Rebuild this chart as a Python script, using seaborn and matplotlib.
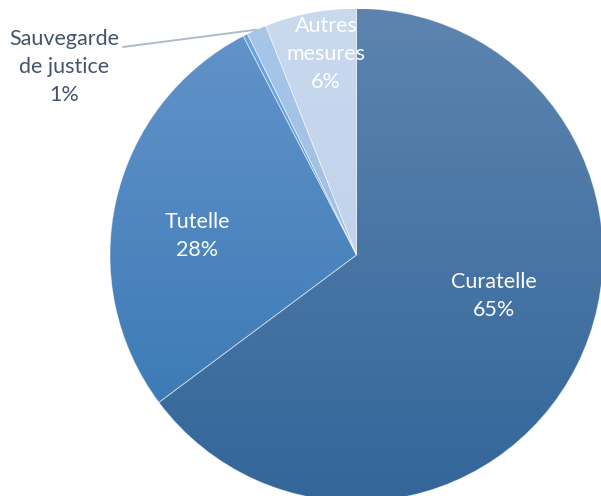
import numpy as np
import matplotlib
matplotlib.use("Agg")
import matplotlib.pyplot as plt
import seaborn as sns

# Répartition des mesures de protection (ordre horaire depuis midi)
categories = ["Curatelle", "Tutelle", "Mandat spécial", "Sauvegarde de justice", "Autres mesures"]
values = [64.8, 27.6, 0.3, 1.3, 6.0]
label_texts = ["Curatelle\n65%", "Tutelle\n28%", "", "Sauvegarde\nde justice\n1%", "Autres\nmesures\n6%"]

# Dégradés vertical (haut, bas) de chaque part
grad_top = ["#5D84AF", "#6494CB", "#6AA6E0", "#A8C6E8", "#C9D9EE"]
grad_bottom = ["#33669A", "#3475B1", "#4F8FCB", "#98B8DE", "#B9CDE7"]

# Positions des étiquettes (coordonnées du repère du camembert)
label_pos = [(0.558, -0.166), (-0.647, 0.077), None, (-1.187, 0.763), (-0.124, 0.815)]
label_colors = ["white", "white", "white", "#44546A", "white"]

sns.set_theme(style="white")
plt.rcParams["font.family"] = ["Lato", "DejaVu Sans"]

fig = plt.figure(figsize=(6.01, 4.96), dpi=100)
fig.patch.set_facecolor("white")
ax = fig.add_axes([110 / 601, -5.5 / 496, 493 / 601, 493 / 496])

wedges, _ = ax.pie(values, startangle=90, counterclock=False, radius=1,
                   colors=grad_bottom,
                   wedgeprops=dict(linewidth=0.6, edgecolor=(1, 1, 1, 0.45)))

# Remplissage en dégradé, découpé selon chaque part
for w, top, bottom in zip(wedges, grad_top, grad_bottom):
    pal = np.array(sns.blend_palette([top, bottom], 256))
    img = pal[:, None, :3]
    im = ax.imshow(img, extent=(-1, 1, -1, 1), origin="upper", aspect="auto",
                   interpolation="bilinear", zorder=1)
    im.set_clip_path(w)
    w.set_facecolor("none")
    w.set_zorder(2)

# Trait de rappel vers la part « Sauvegarde de justice »
start = 90 - 360 * (sum(values[:3]) + values[3] / 2) / sum(values)
ex, ey = np.cos(np.radians(start)), np.sin(np.radians(start))
ax.plot([-0.947, ex], [0.844, ey], color="#B0BBC8", lw=1.4, clip_on=False, zorder=3)

for txt, pos, col in zip(label_texts, label_pos, label_colors):
    if pos is None or not txt:
        continue
    ax.text(pos[0], pos[1], txt, ha="center", va="center", color=col,
            fontsize=15.5, linespacing=1.5, zorder=4, clip_on=False)

ax.set_xlim(-1, 1)
ax.set_ylim(-1, 1)
ax.set_aspect("equal")
ax.axis("off")

fig.savefig("out.png", dpi=100, facecolor="white")
